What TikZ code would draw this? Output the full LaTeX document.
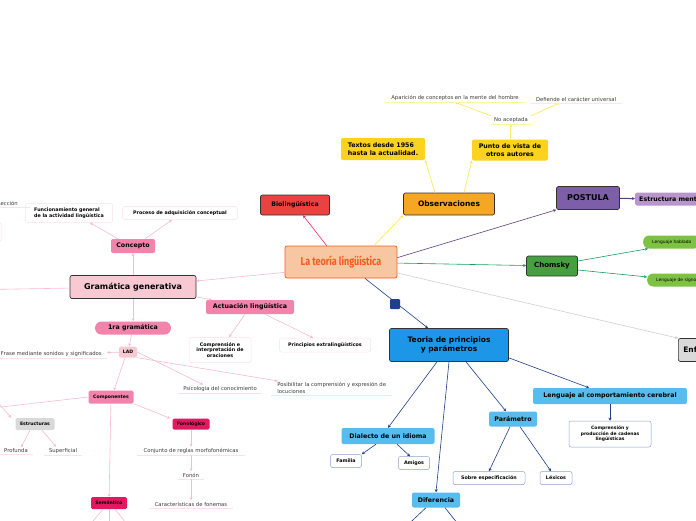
\documentclass[tikz,border=0pt]{standalone}
\usepackage{fontspec}
\setmainfont{DejaVu Sans}
\newfontfamily\titlefont{Fira Sans}
\usetikzlibrary{arrows.meta}

\definecolor{durazno}{HTML}{F6C7A1}
\definecolor{naranjo}{HTML}{FA5A1E}
\definecolor{rojobio}{HTML}{E9423F}
\definecolor{lineabio}{HTML}{E0306A}
\definecolor{naranja}{HTML}{F5A623}
\definecolor{amarillo}{HTML}{FBD31E}
\definecolor{amalinea}{HTML}{FFE84A}
\definecolor{amasub}{HTML}{FFF3A6}
\definecolor{morado}{HTML}{7C5FA8}
\definecolor{moradolin}{HTML}{5E3C85}
\definecolor{lila}{HTML}{B895CD}
\definecolor{verde}{HTML}{46A040}
\definecolor{verdelin}{HTML}{11A05A}
\definecolor{verdeclaro}{HTML}{7DC243}
\definecolor{gris}{HTML}{D9D9D9}
\definecolor{grislin}{HTML}{CFCFCF}
\definecolor{azul}{HTML}{1E96E8}
\definecolor{celeste}{HTML}{56BDEE}
\definecolor{marino}{HTML}{1F3F8A}
\definecolor{azulborde}{HTML}{8EA2CF}
\definecolor{rosaclaro}{HTML}{F8C8D3}
\definecolor{rosa}{HTML}{F283AB}
\definecolor{fucsia}{HTML}{E4185E}
\definecolor{rosalinea}{HTML}{F8BBD0}
\definecolor{rosasub}{HTML}{FCE0EA}
\definecolor{gristxt}{HTML}{3A3A3A}

\tikzset{
  nodo/.style={rounded corners=2pt, draw=black!80, line width=0.7pt, align=center, inner sep=1pt, font=\bfseries\fontsize{7.5}{9}\selectfont},
  rama/.style={rounded corners=2pt, align=center, inner sep=1pt, font=\bfseries\fontsize{6.3}{7.5}\selectfont},
  hoja/.style={rounded corners=2pt, fill=white, line width=0.5pt, align=center, inner sep=1pt, font=\bfseries\fontsize{4.8}{5.8}\selectfont},
  chica/.style={rounded corners=1.5pt, align=center, inner sep=1pt, font=\bfseries\fontsize{4.6}{5.6}\selectfont},
  texto/.style={font=\fontsize{5.3}{6.3}\selectfont, text=gristxt, inner xsep=3pt, inner ysep=1.5pt, align=left},
  flecha/.style={line width=0.6pt, -{Stealth[length=3pt,width=3pt]}},
  rosaf/.style={flecha, draw=rosalinea},
  azulf/.style={flecha, draw=marino},
  amaf/.style={flecha, draw=amalinea},
}

\begin{document}
\begin{tikzpicture}[x=1pt,y=-1pt]
  \useasboundingbox (0,0) rectangle (696,520);
  \clip (0,0) rectangle (696,520);

  % central node
  \node[nodo, fill=durazno, draw=naranjo, text=naranjo, minimum width=112, minimum height=32] (teoria) at (341,262)
    {\titlefont\bfseries\fontsize{11.5}{12}\selectfont\scalebox{0.78}[1]{La teoría lingüística}};

  % top branches
  \node[nodo, fill=rojobio, minimum width=69, minimum height=20, font=\bfseries\fontsize{6.2}{7}\selectfont] (bio) at (295,205) {Biolingüística};
  \node[nodo, fill=naranja, minimum width=91, minimum height=22] (obs) at (449,204) {Observaciones};
  \node[rama, fill=amarillo, minimum width=84, minimum height=22, align=left] (textos) at (383,149) {Textos desde 1956\\hasta la actualidad.};
  \node[rama, fill=amarillo, minimum width=76, minimum height=21] (punto) at (510,150) {Punto de vista de\\otros autores};
  \node[texto] (noacep) at (511,120) {No aceptada};
  \node[texto, minimum width=140] (apar) at (455,98) {Aparición de conceptos en la mente del hombre};
  \node[texto, minimum width=91] (defi) at (576,99) {Defiende el carácter universal};

  \draw[flecha, draw=lineabio] (teoria.north west) ++(42,0) -- (bio);
  \draw[amaf] ([xshift=33pt]teoria.north) -- (obs.south west);
  \draw[amaf] ([xshift=-14pt]obs.north) -- (textos.south east);
  \draw[amaf] ([xshift=15pt]obs.north) -- (punto.south west);
  \draw[amaf] (punto) -- (noacep);
  \draw[amaf] (noacep.north west) -- (apar.south);
  \draw[amaf] (noacep.north east) -- ([xshift=-16pt]defi.south);

  % right branches
  \node[nodo, fill=morado, minimum width=63, minimum height=23, font=\bfseries\fontsize{8}{9}\selectfont] (postula) at (588,198) {POSTULA};
  \node[rama, fill=lila, minimum height=13, anchor=west, inner xsep=4pt] (estru) at (635,199) {Estructura mental};
  \node[nodo, fill=verde, minimum width=51, minimum height=20, font=\bfseries\fontsize{7}{8}\selectfont] (chomsky) at (552,266) {Chomsky};
  \node[chica, fill=verdeclaro, rounded corners=6pt, minimum height=13, anchor=west, inner xsep=9pt, font=\fontsize{4.4}{5}\selectfont] (habla) at (643,242) {Lenguaje hablado};
  \node[chica, fill=verdeclaro, rounded corners=6pt, minimum height=13, anchor=west, inner xsep=9pt, font=\fontsize{4.4}{5}\selectfont] (senas) at (647,280) {Lenguaje de signos};
  \node[nodo, fill=gris, minimum height=23, anchor=west, inner xsep=5pt] (enf) at (678,350) {Enfoque};

  \draw[flecha, draw=moradolin] ([yshift=-12pt]teoria.north east) -- (postula.south west);
  \draw[flecha, draw=moradolin, line width=1pt] (postula) -- (estru);
  \draw[flecha, draw=verdelin] (teoria) -- (chomsky);
  \draw[flecha, draw=verdelin] ([yshift=5pt]chomsky.east) -- ([xshift=5pt]habla.south west);
  \draw[flecha, draw=verdelin] ([yshift=-4pt]chomsky.east) -- (senas);
  \draw[flecha, draw=grislin] ([yshift=-11pt]teoria.east) -- (enf.north west);

  % lower right branch
  \node[fill=marino, rounded corners=1pt, minimum size=10, inner sep=0pt] (cuadro) at (395,304) {};
  \node[nodo, fill=azul, minimum width=119, minimum height=33] (pyp) at (449,345) {Teoria de principios\\y parámetros};
  \node[rama, fill=celeste, minimum width=93, minimum height=16] (dialecto) at (388,436) {Dialecto de un idioma};
  \node[hoja, draw=azulborde, minimum width=31, minimum height=13] (familia) at (346,461) {Familia};
  \node[hoja, draw=azulborde, minimum width=31, minimum height=13] (amigos) at (414,463) {Amigos};
  \node[rama, fill=celeste, minimum width=48, minimum height=15] (dif) at (436,500) {Diferencia};
  \node[rama, fill=celeste, minimum width=48, minimum height=15] (param) at (513,419) {Parámetro};
  \node[hoja, draw=azulborde, minimum width=72, minimum height=13] (sobre) at (489,478) {Sobre especificación};
  \node[hoja, draw=azulborde, minimum width=32, minimum height=13] (lexicos) at (556,478) {Léxicos};
  \node[rama, fill=celeste, minimum width=154, minimum height=16] (cerebral) at (610,396) {Lenguaje al comportamiento cerebral};
  \node[hoja, draw=azulborde, minimum width=82, minimum height=26, font=\bfseries\fontsize{4.5}{5.6}\selectfont] (cadenas) at (610,434) {Comprensión y\\producción de cadenas\\lingüísticas};
  \coordinate (difa) at (398,534);
  \coordinate (difb) at (466,534);

  \draw[azulf] ([xshift=24pt]teoria.south) -- ([xshift=-21pt]pyp.north);
  \draw[azulf] ([xshift=-12pt]pyp.south) -- (dialecto.north);
  \draw[azulf] (pyp.south) -- (dif.north);
  \draw[azulf] ([xshift=17pt]pyp.south) -- ([xshift=-7pt]param.north);
  \draw[azulf] ([yshift=4pt]pyp.south east) -- ([xshift=-21pt]cerebral.north);
  \draw[azulf] (cerebral) -- (cadenas);
  \draw[azulf] ([xshift=-12pt]dialecto.south) -- (familia.north east);
  \draw[azulf] ([xshift=9pt]dialecto.south) -- ([xshift=-4pt]amigos.north);
  \draw[azulf] ([xshift=-3pt]param.south) -- (sobre.north);
  \draw[azulf] ([xshift=7pt]param.south) -- ([xshift=-5pt]lexicos.north);
  \draw[azulf] ([xshift=-10pt]dif.south) -- (difa);
  \draw[azulf] ([xshift=9pt]dif.south) -- (difb);

  % left branch
  \node[nodo, fill=rosaclaro, minimum width=126, minimum height=23, font=\bfseries\fontsize{8}{9}\selectfont] (gram) at (133,287) {Gramática generativa};
  \node[rama, fill=rosa, minimum width=44, minimum height=14] (concepto) at (133,246) {Concepto};
  \node[hoja, draw=rosasub, minimum width=87, minimum height=19, align=left] (func) at (69,213) {Funcionamiento general\\de la actividad lingüística};
  \node[hoja, draw=rosasub, minimum width=115, minimum height=13] (proceso) at (180,213) {Proceso de adquisición conceptual};
  \node[texto, anchor=east, inner xsep=12pt] (rec) at (30,203) {Rección};
  \node[hoja, draw=rosasub, minimum width=62, minimum height=19] (caja) at (-30,232) {};
  \node[rama, fill=rosa, minimum width=88, minimum height=14] (actua) at (250,307) {Actuación lingüística};
  \node[hoja, draw=rosasub, minimum width=62, minimum height=25] (compint) at (220,350) {Comprensión e\\interpretación de\\oraciones};
  \node[hoja, draw=rosasub, minimum width=91, minimum height=14] (prinext) at (325,345) {Principios extralingüísticos};
  \node[rama, fill=rosa, rounded corners=6.5pt, minimum width=76, minimum height=13] (ragram) at (133,328) {1ra gramática};
  \node[chica, fill=rosaclaro, minimum width=18, minimum height=11] (lad) at (128,352) {LAD};
  \node[texto, anchor=east, minimum width=111] (frase) at (107,354) {Frase mediante sonidos y significados};
  \node[texto, minimum width=84] (psico) at (220,389) {Psicología del conocimiento};
  \node[texto, anchor=west, minimum width=121] (posib) at (271,388) {Posibilitar la comprensión y expresión de\\locuciones};
  \node[chica, fill=rosa, minimum width=45, minimum height=13] (compo) at (111,397) {Componentes};
  \node[chica, fill=gris, minimum width=39, minimum height=12] (estruc) at (35,424) {Estructuras};
  \node[texto, minimum width=33] (profunda) at (16,451) {Profunda};
  \node[texto, minimum width=38] (superf) at (63,451) {Superficial};
  \node[chica, fill=fucsia, minimum width=37, minimum height=11] (fono) at (191,424) {Fonológico};
  \node[texto, minimum width=107] (conj) at (191,451) {Conjunto de reglas morfofonémicas};
  \node[texto, minimum width=26] (fonon) at (191,475) {Fonón};
  \node[texto, minimum width=83] (caract) at (191,504) {Características de fonemas};
  \node[chica, fill=fucsia, minimum width=36, minimum height=12] (seman) at (109,503) {Semántico};
  \coordinate (izq) at (-40,290);
  \coordinate (sinta) at (-25,410);
  \coordinate (sintb) at (-14,389);
  \coordinate (sema) at (84,532);
  \coordinate (semb) at (109,532);
  \coordinate (semc) at (133,532);

  % underlines
  \foreach \t in {rec,frase,psico,posib,profunda,superf,conj,fonon,caract}
    \draw[rosasub, line width=0.6pt] (\t.south west) -- (\t.south east);
  \foreach \t in {noacep,apar,defi}
    \draw[amasub, line width=0.6pt] (\t.south west) -- (\t.south east);

  \draw[rosaf] ([yshift=6pt]teoria.south west) -- ([yshift=6pt]gram.east);
  \draw[draw=rosalinea, line width=0.6pt] (gram) -- (izq);
  \draw[rosaf] (gram) -- (concepto);
  \draw[rosaf] ([xshift=-15pt]concepto.north) -- ([xshift=21pt]func.south);
  \draw[rosaf] ([xshift=12pt]concepto.north) -- ([xshift=-8pt]proceso.south);
  \draw[rosaf] ([yshift=2pt]gram.south east) -- ([xshift=6pt]actua.north west);
  \draw[rosaf] ([xshift=-5pt]actua.south) -- ([xshift=9pt]compint.north);
  \draw[rosaf] ([xshift=15pt]actua.south) -- ([xshift=-12pt]prinext.north);
  \draw[rosaf] (gram) -- (ragram);
  \draw[rosaf] (ragram) -- (lad);
  \draw[rosaf] (lad) -- (frase);
  \draw[rosaf] (lad.east) -- ([xshift=-17pt]psico.north);
  \draw[rosaf] (lad.south east) -- ([xshift=7pt]posib.north west);
  \draw[rosaf] ([xshift=-3pt]lad.south) -- ([xshift=3pt]compo.north);
  \draw[rosaf] (compo.west) -- (sinta);
  \draw[rosaf] (sintb) -- ([xshift=-4pt]estruc.north west);
  \draw[rosaf] ([xshift=-5pt]estruc.south) -- ([xshift=5pt]profunda.north);
  \draw[rosaf] ([xshift=7pt]estruc.south) -- ([xshift=-7pt]superf.north);
  \draw[rosaf] (compo.south east) -- ([xshift=-2pt]fono.north west);
  \draw[rosaf] (fono) -- (conj);
  \draw[rosaf] (conj) -- (fonon);
  \draw[rosaf] (fonon) -- (caract);
  \draw[rosaf] (compo) -- (seman);
  \draw[rosaf] ([xshift=-6pt]seman.south) -- (sema);
  \draw[rosaf] (seman) -- (semb);
  \draw[rosaf] ([xshift=6pt]seman.south) -- (semc);
\end{tikzpicture}
\end{document}
